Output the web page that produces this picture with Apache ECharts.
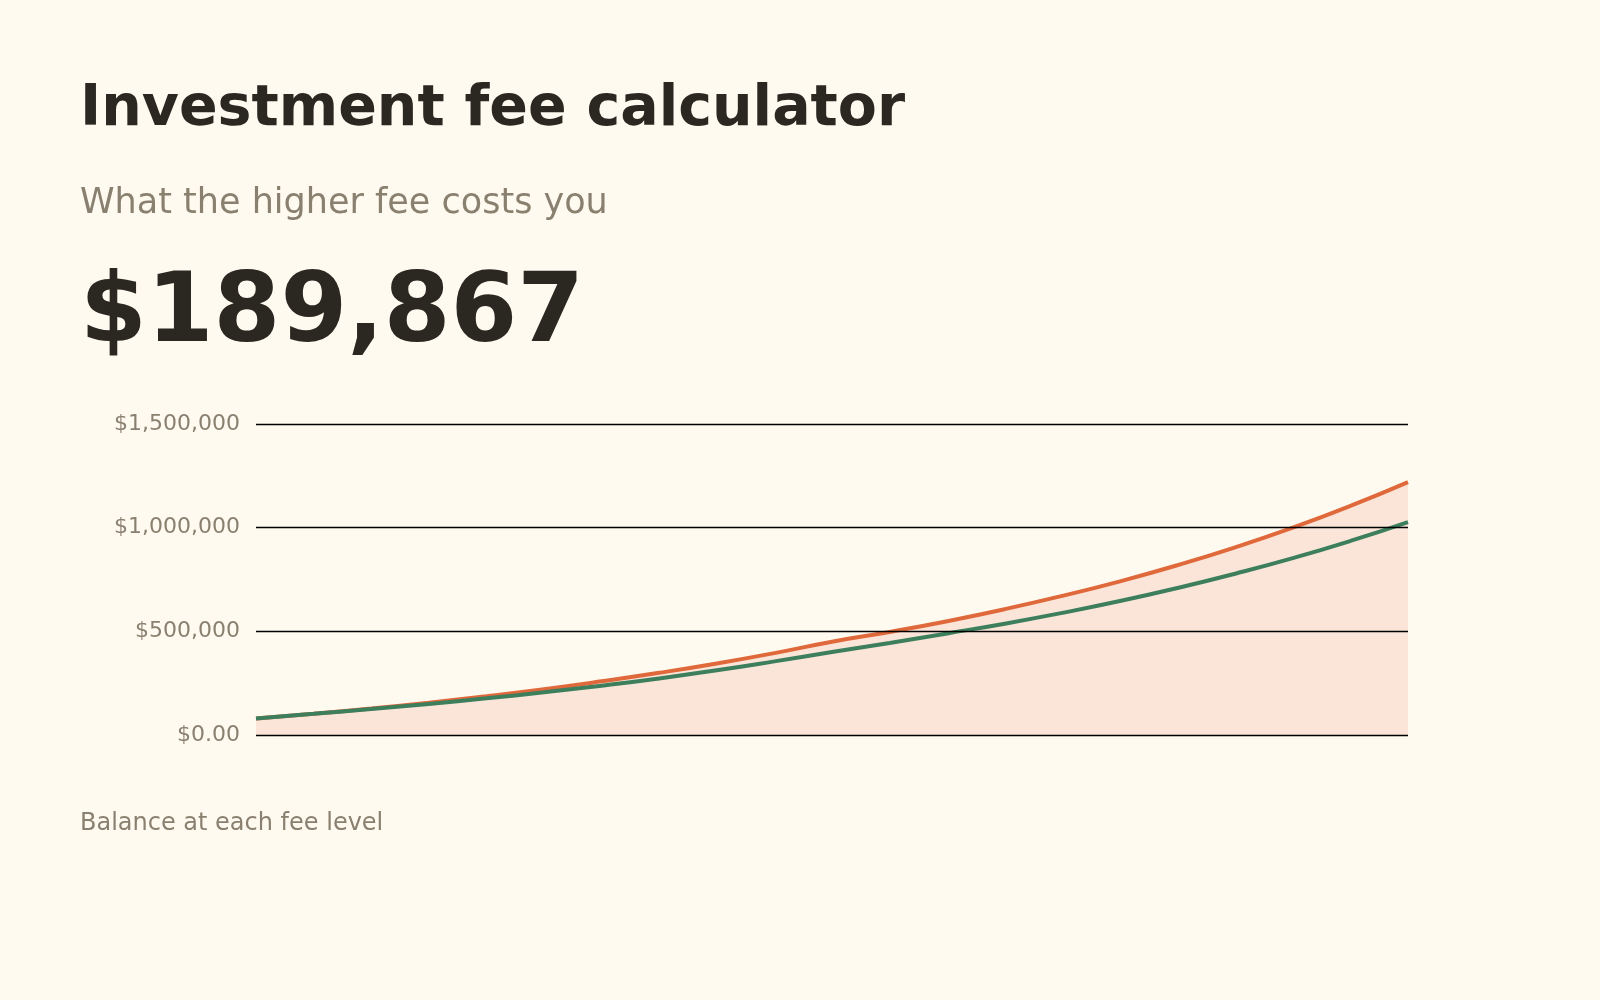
<!DOCTYPE html>
<html><head><meta charset="utf-8">
<script src="https://cdn.jsdelivr.net/npm/echarts@6/dist/echarts.min.js"></script>
<style>html,body{margin:0;background:#fffaf0}#c{width:1600px;height:1000px}</style>
</head><body><div id="c"></div>
<script>
const years = Array.from({length:21},(_,i)=>i);
const lowFeeBalance = [80000,103000,128000,156000,187000,221000,259000,300000,345000,395000,450000,497000,549000,607000,671000,741000,819000,905000,1000000,1105000,1220000];
const highFeeBalance = [80000,102000,125000,150000,177000,206000,238000,273000,312000,355000,400000,444000,490000,537000,589000,646000,709000,778000,853000,936000,1027000];
const yTicks = [0,500000,1000000,1500000];
const chart = echarts.init(document.getElementById('c'));
chart.setOption({
  backgroundColor:'#fffaf0',
  textStyle:{fontFamily:'DejaVu Sans'},
  graphic:[
    {type:'text',left:80,top:82,style:{text:'Investment fee calculator',font:'bold 57px "DejaVu Sans"',fill:'#2b2822'}},
    {type:'text',left:80,top:186,style:{text:'What the higher fee costs you',font:'35px "DejaVu Sans"',fill:'#8a8070'}},
    {type:'text',left:80,top:268,style:{text:'$189,867',font:'bold 96px "DejaVu Sans"',fill:'#2b2822'}},
    {type:'text',left:80,top:812,style:{text:'Balance at each fee level',font:'24px "DejaVu Sans"',fill:'#8a8070'}}
  ],
  grid:{left:256,right:192,top:424,bottom:265},
  xAxis:{type:'category',data:years,boundaryGap:false,show:false},
  yAxis:{type:'value',min:0,max:1500000,interval:500000,z:5,
    axisLine:{show:false},axisTick:{show:false},
    splitLine:{lineStyle:{color:'#000',width:1.3}},
    axisLabel:{color:'#8a8070',fontSize:22,margin:16,
      formatter:v=>v===0?'$0.00':'$'+v.toLocaleString('en-US')}},
  series:[
    {type:'line',z:2,data:lowFeeBalance,smooth:true,symbol:'none',lineStyle:{color:'#e0693c',width:4},areaStyle:{color:'#fbe5d8',opacity:1}},
    {type:'line',z:3,data:highFeeBalance,smooth:true,symbol:'none',lineStyle:{color:'#3d7f5c',width:4}}
  ]
});
</script></body></html>
